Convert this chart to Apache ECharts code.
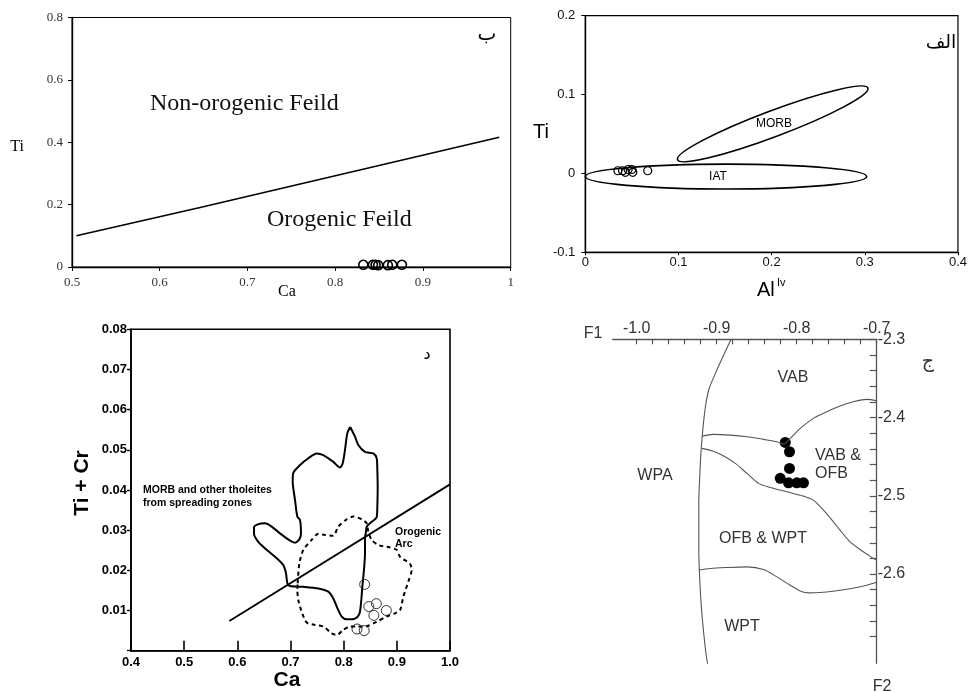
<!DOCTYPE html>
<html>
<head>
<meta charset="utf-8">
<title>Discrimination diagrams</title>
<script src="https://cdn.jsdelivr.net/npm/echarts@6/dist/echarts.min.js"></script>
<style>
  html, body { margin: 0; padding: 0; background: #fff; }
  #chart { width: 970px; height: 692px; }
</style>
</head>
<body>
<div id="chart"></div>
<script>
  // ---- panel ب : Ti vs Ca ----
  var caTiLine = [[0.505, 0.100], [0.646, 0.191], [0.987, 0.416]];
  var caTiSamples = [[0.832, 0.007], [0.843, 0.007], [0.846, 0.007], [0.849, 0.006],
                     [0.860, 0.006], [0.865, 0.007], [0.876, 0.007]];

  // ---- panel الف : Ti vs Al(iv) ----
  // field = [tip1 x, tip1 y, tip2 x, tip2 y, edge x, edge y]
  var iatField = [0.000, -0.004, 0.302, -0.004, 0.151, 0.0118];
  var morbField = [0.099, 0.0174, 0.3034, 0.1083, 0.2012, 0.0804];
  var alTiSamples = [[0.035, 0.0034], [0.040, 0.0034], [0.043, 0.0014], [0.046, 0.005],
                     [0.050, 0.005], [0.051, 0.0014], [0.067, 0.0034]];

  // ---- panel د : Ti + Cr vs Ca ----
  var morbOutline = [[0.8123, 0.0557], [0.8213, 0.0533], [0.8275, 0.0512], [0.840, 0.0495],
    [0.8557, 0.0491], [0.8621, 0.0479], [0.8633, 0.0450], [0.8640, 0.0408], [0.8633, 0.0358],
    [0.8621, 0.0333], [0.8495, 0.0317], [0.8433, 0.0309], [0.8420, 0.0296], [0.8401, 0.0280],
    [0.8401, 0.0242], [0.8382, 0.0201], [0.8351, 0.0159], [0.8326, 0.0118], [0.8294, 0.0091],
    [0.8213, 0.0080], [0.8057, 0.0078], [0.7963, 0.0085], [0.7881, 0.0106], [0.7805, 0.0130],
    [0.7711, 0.0147], [0.7523, 0.0155], [0.7241, 0.0159], [0.6991, 0.0161], [0.6941, 0.0168],
    [0.6915, 0.0193], [0.6865, 0.0213], [0.6740, 0.0230], [0.6552, 0.0251], [0.6395, 0.0271],
    [0.6313, 0.0292], [0.6313, 0.0307], [0.6395, 0.0315], [0.6520, 0.0317], [0.6646, 0.0309],
    [0.6802, 0.0292], [0.6991, 0.0274], [0.7085, 0.0269], [0.7166, 0.0277], [0.7197, 0.0292],
    [0.7179, 0.0325], [0.7128, 0.0334], [0.7085, 0.0375], [0.7041, 0.0421], [0.7053, 0.0443],
    [0.7179, 0.0462], [0.7335, 0.0479], [0.7492, 0.0491], [0.7617, 0.0487], [0.7805, 0.0470],
    [0.7931, 0.0456], [0.7981, 0.0466], [0.8025, 0.0500], [0.8068, 0.0541], [0.8123, 0.0557]];
  var arcOutline = [[0.7135, 0.0168], [0.7166, 0.0217], [0.7241, 0.0251], [0.7398, 0.0276],
    [0.7524, 0.0291], [0.7649, 0.0288], [0.7806, 0.0286], [0.7900, 0.0309], [0.8056, 0.0327],
    [0.8182, 0.0334], [0.8339, 0.0327], [0.8433, 0.0317], [0.8464, 0.0296], [0.8527, 0.0276],
    [0.8652, 0.0263], [0.8871, 0.0257], [0.8997, 0.0251], [0.9060, 0.0234], [0.9248, 0.0216],
    [0.9279, 0.0201], [0.9216, 0.0172], [0.9122, 0.0134], [0.9060, 0.0101], [0.8966, 0.0093],
    [0.8809, 0.0085], [0.8621, 0.0072], [0.8433, 0.0061], [0.8276, 0.0060], [0.8119, 0.0060],
    [0.7994, 0.0052], [0.7868, 0.0039], [0.7774, 0.0043], [0.7618, 0.0060], [0.7461, 0.0064],
    [0.7304, 0.0070], [0.7210, 0.0097], [0.7147, 0.0126], [0.7129, 0.0151], [0.7135, 0.0168]];
  var arcDivide = [[0.585, 0.0074], [1.0, 0.0414]];
  var caTiCrSamples = [[0.8395, 0.0165], [0.8473, 0.0110], [0.8615, 0.0117], [0.8568, 0.0088],
                       [0.8803, 0.0100], [0.8251, 0.0054], [0.8386, 0.0050]];

  // ---- panel ج : F1 vs F2 ----
  var wpaBoundary = [[-0.8820, -2.300], [-0.8913, -2.3201], [-0.9016, -2.3435], [-0.9100, -2.3648],
    [-0.9141, -2.3862], [-0.9170, -2.4118], [-0.9195, -2.4416], [-0.9212, -2.4757],
    [-0.9224, -2.5097], [-0.9224, -2.5396], [-0.9224, -2.5694], [-0.9215, -2.5992],
    [-0.9203, -2.6248], [-0.9182, -2.6547], [-0.9153, -2.6845], [-0.9128, -2.7059], [-0.9100, -2.7220]];
  var vabBoundary = [[-0.9185, -2.4237], [-0.9037, -2.4215], [-0.8829, -2.4224], [-0.8621, -2.4245],
    [-0.8414, -2.4279], [-0.8247, -2.4309], [-0.8165, -2.4339], [-0.8081, -2.4266],
    [-0.7956, -2.4138], [-0.7791, -2.4010], [-0.7623, -2.3926], [-0.7458, -2.3853],
    [-0.7292, -2.3798], [-0.7125, -2.3767], [-0.7000, -2.3785]];
  var ofbBoundary = [[-0.9185, -2.4394], [-0.9060, -2.4425], [-0.8913, -2.4492], [-0.8767, -2.4586],
    [-0.8621, -2.4714], [-0.8476, -2.4841], [-0.8330, -2.4893], [-0.8122, -2.4949],
    [-0.7915, -2.5004], [-0.7791, -2.5055], [-0.7666, -2.5183], [-0.7541, -2.5332],
    [-0.7458, -2.5439], [-0.7333, -2.5588], [-0.7208, -2.5685], [-0.7084, -2.5771], [-0.7000, -2.5822]];
  var wptBoundary = [[-0.9224, -2.5950], [-0.9079, -2.5928], [-0.8870, -2.5916], [-0.8621, -2.5908],
    [-0.8414, -2.5941], [-0.8247, -2.6036], [-0.8081, -2.6142], [-0.7956, -2.6215],
    [-0.7853, -2.6240], [-0.7666, -2.6232], [-0.7458, -2.6206], [-0.7249, -2.6171],
    [-0.7125, -2.6142], [-0.7000, -2.6104]];
  var f1f2Samples = [[-0.8143, -2.4318], [-0.8090, -2.4437], [-0.8090, -2.4650], [-0.8206, -2.4777],
                     [-0.8102, -2.4834], [-0.7998, -2.4834], [-0.7915, -2.4834]];

  var f1Ticks = [-1.0, -0.98, -0.96, -0.94, -0.92, -0.9, -0.88, -0.86, -0.84, -0.82, -0.8,
                 -0.78, -0.76, -0.74, -0.72, -0.7];
  var f1Labels = [-1.0, -0.9, -0.8, -0.7];
  var f2Ticks = [-2.3, -2.32, -2.34, -2.36, -2.38, -2.4, -2.42, -2.44, -2.46, -2.48, -2.5,
                 -2.52, -2.54, -2.56, -2.58, -2.6, -2.62, -2.64, -2.66, -2.68];
  var f2Labels = [-2.3, -2.4, -2.5, -2.6];

  var chart = echarts.init(document.getElementById('chart'), null, {renderer: 'canvas'});

  // draws a closed ellipse from its two tips and one point of its edge
  function renderEllipse(params, api) {
    var p1 = api.coord([api.value(0), api.value(1)]);
    var p2 = api.coord([api.value(2), api.value(3)]);
    var pe = api.coord([api.value(4), api.value(5)]);
    var cx = (p1[0] + p2[0]) / 2, cy = (p1[1] + p2[1]) / 2;
    var dx = p2[0] - p1[0], dy = p2[1] - p1[1];
    var a = Math.sqrt(dx * dx + dy * dy) / 2;
    var t = Math.atan2(dy, dx);
    var ex = pe[0] - cx, ey = pe[1] - cy;
    var u = ex * Math.cos(t) + ey * Math.sin(t);
    var v = -ex * Math.sin(t) + ey * Math.cos(t);
    var b = Math.abs(v) / Math.sqrt(Math.max(1e-6, 1 - (u * u) / (a * a)));
    var arc = ' A ' + a + ' ' + b + ' ' + (t * 180 / Math.PI) + ' 1 1 ';
    var d = 'M ' + p1[0] + ' ' + p1[1] + arc + p2[0] + ' ' + p2[1] + arc + p1[0] + ' ' + p1[1] + ' Z';
    return {
      type: 'path',
      shape: {pathData: d},
      style: {fill: 'none', stroke: '#000', lineWidth: 1.6}
    };
  }

  function txt(s, x, y, font, color, extra) {
    var el = {
      type: 'text', x: x, y: y, silent: true,
      style: {text: s, font: font, fill: color || '#000', align: 'center', verticalAlign: 'middle',
              textAlign: 'center', textVerticalAlign: 'middle'}
    };
    if (extra) {
      for (var k in extra) {
        if (k === 'align') { el.style.align = extra[k]; el.style.textAlign = extra[k]; }
        else el[k] = extra[k];
      }
    }
    return el;
  }

  var serif = 'Liberation Serif';
  var sans = 'Liberation Sans';
  var arabic = 'DejaVu Sans';

  var option = {
    animation: false,
    backgroundColor: '#fff',
    grid: [
      {left: 72, top: 17.5, width: 438.7, height: 249.5, show: true, borderColor: '#000', borderWidth: 1},
      {left: 585.3, top: 15.7, width: 379.7, height: 236.6, show: true, borderColor: '#000', borderWidth: 1.2},
      {left: 131, top: 329.3, width: 319, height: 321.4, show: true, borderColor: '#000', borderWidth: 1.6},
      {left: 612.7, top: 339.3, width: 264, height: 324, show: false}
    ],
    xAxis: [
      {
        gridIndex: 0, type: 'value', min: 0.5, max: 1, interval: 0.1,
        axisLine: {show: true, onZero: false, lineStyle: {color: '#000', width: 1.4}},
        axisTick: {show: true, length: 4, lineStyle: {color: '#000'}},
        axisLabel: {color: '#333', fontFamily: serif, fontSize: 13, margin: 9},
        splitLine: {show: false}
      },
      {
        gridIndex: 1, type: 'value', min: 0, max: 0.4, interval: 0.1,
        axisLine: {show: true, onZero: false, lineStyle: {color: '#000', width: 1.4}},
        axisTick: {show: true, length: 3, lineStyle: {color: '#000'}},
        axisLabel: {color: '#111', fontFamily: sans, fontSize: 13, margin: 4},
        splitLine: {show: false}
      },
      {
        gridIndex: 2, type: 'value', min: 0.4, max: 1.0, interval: 0.1,
        axisLine: {show: true, onZero: false, lineStyle: {color: '#000', width: 1.6}},
        axisTick: {show: true, inside: true, length: 10, lineStyle: {color: '#000', width: 1.6}},
        axisLabel: {color: '#000', fontFamily: sans, fontWeight: 'bold', fontSize: 13, margin: 5,
                    formatter: function (v) { return v.toFixed(1); }},
        splitLine: {show: false}
      },
      {
        gridIndex: 3, type: 'value', position: 'top', min: -1.03, max: -0.7,
        axisLine: {show: true, onZero: false, lineStyle: {color: '#555', width: 1.3}},
        axisTick: {show: true, inside: true, length: 5, customValues: f1Ticks, lineStyle: {color: '#555', width: 1.2}},
        axisLabel: {color: '#333', fontFamily: sans, fontSize: 16, margin: 3, customValues: f1Labels,
                    formatter: function (v) { return v.toFixed(1); }},
        splitLine: {show: false}
      }
    ],
    yAxis: [
      {
        gridIndex: 0, type: 'value', min: 0, max: 0.8, interval: 0.2,
        axisLine: {show: true, onZero: false, lineStyle: {color: '#000', width: 1.4}},
        axisTick: {show: true, length: 4, lineStyle: {color: '#000'}},
        axisLabel: {color: '#333', fontFamily: serif, fontSize: 13, margin: 9},
        splitLine: {show: false}
      },
      {
        gridIndex: 1, type: 'value', min: -0.1, max: 0.2, interval: 0.1,
        axisLine: {show: true, onZero: false, lineStyle: {color: '#000', width: 1.4}},
        axisTick: {show: true, length: 4, lineStyle: {color: '#000'}},
        axisLabel: {color: '#111', fontFamily: sans, fontSize: 13, margin: 10},
        splitLine: {show: false}
      },
      {
        gridIndex: 2, type: 'value', min: 0, max: 0.08, interval: 0.01,
        axisLine: {show: true, onZero: false, lineStyle: {color: '#000', width: 1.6}},
        axisTick: {show: true, length: 4, lineStyle: {color: '#000', width: 1.4}},
        axisLabel: {color: '#000', fontFamily: sans, fontWeight: 'bold', fontSize: 13, margin: 4,
                    formatter: function (v) { return v === 0 ? '' : v.toFixed(2); }},
        splitLine: {show: false}
      },
      {
        gridIndex: 3, type: 'value', position: 'right', min: -2.714, max: -2.3,
        axisLine: {show: true, onZero: false, lineStyle: {color: '#555', width: 1.3}},
        axisTick: {show: true, inside: true, length: 7, customValues: f2Ticks, lineStyle: {color: '#555', width: 1.2}},
        axisLabel: {color: '#333', fontFamily: sans, fontSize: 16, margin: 1, customValues: f2Labels,
                    formatter: function (v) { return v.toFixed(1); }},
        splitLine: {show: false}
      }
    ],
    series: [
      // ب
      {type: 'line', xAxisIndex: 0, yAxisIndex: 0, data: caTiLine, showSymbol: false,
       lineStyle: {color: '#000', width: 1.5}},
      {type: 'scatter', xAxisIndex: 0, yAxisIndex: 0, data: caTiSamples, symbol: 'circle', symbolSize: 9,
       itemStyle: {color: 'transparent', borderColor: '#000', borderWidth: 1.6, opacity: 1}},
      // الف
      {type: 'custom', xAxisIndex: 1, yAxisIndex: 1, data: [iatField, morbField], renderItem: renderEllipse},
      {type: 'scatter', xAxisIndex: 1, yAxisIndex: 1, data: alTiSamples, symbol: 'circle', symbolSize: 8,
       itemStyle: {color: 'transparent', borderColor: '#000', borderWidth: 1.2, opacity: 1}},
      // د
      {type: 'line', xAxisIndex: 2, yAxisIndex: 2, data: morbOutline, showSymbol: false, smooth: 0.25,
       lineStyle: {color: '#000', width: 2}},
      {type: 'line', xAxisIndex: 2, yAxisIndex: 2, data: arcOutline, showSymbol: false, smooth: 0.25,
       lineStyle: {color: '#000', width: 2, type: [4, 3.5]}},
      {type: 'line', xAxisIndex: 2, yAxisIndex: 2, data: arcDivide, showSymbol: false,
       lineStyle: {color: '#000', width: 1.8}},
      {type: 'scatter', xAxisIndex: 2, yAxisIndex: 2, data: caTiCrSamples, symbol: 'circle', symbolSize: 10,
       itemStyle: {color: 'transparent', borderColor: '#333', borderWidth: 1, opacity: 1}},
      // ج
      {type: 'line', xAxisIndex: 3, yAxisIndex: 3, data: wpaBoundary, showSymbol: false, smooth: 0.3,
       lineStyle: {color: '#555', width: 1.1}},
      {type: 'line', xAxisIndex: 3, yAxisIndex: 3, data: vabBoundary, showSymbol: false, smooth: 0.3,
       lineStyle: {color: '#555', width: 1.1}},
      {type: 'line', xAxisIndex: 3, yAxisIndex: 3, data: ofbBoundary, showSymbol: false, smooth: 0.3,
       lineStyle: {color: '#555', width: 1.1}},
      {type: 'line', xAxisIndex: 3, yAxisIndex: 3, data: wptBoundary, showSymbol: false, smooth: 0.3,
       lineStyle: {color: '#555', width: 1.1}},
      {type: 'scatter', xAxisIndex: 3, yAxisIndex: 3, data: f1f2Samples, symbol: 'circle', symbolSize: 11,
       itemStyle: {color: '#000', opacity: 1}}
    ],
    graphic: {
      elements: [
        // ب
        txt('Non-orogenic Feild', 150, 104, '24px ' + serif, '#111', {align: 'left'}),
        txt('Orogenic Feild', 267, 220, '24px ' + serif, '#111', {align: 'left'}),
        txt('ب', 487, 35, '20px "' + arabic + '"', '#000'),
        txt('Ti', 17, 147, '16px ' + serif, '#000'),
        txt('Ca', 287, 292, '16px ' + serif, '#000'),
        // الف
        txt('MORB', 774, 124, '12px ' + sans, '#000'),
        txt('IAT', 718, 177, '12px ' + sans, '#000'),
        txt('الف', 941, 43, '19px "' + arabic + '"', '#000'),
        txt('Ti', 541, 132, '20px ' + sans, '#000'),
        txt('Al', 757, 290, '20px ' + sans, '#000', {align: 'left'}),
        txt('Iv', 777, 283, '11px ' + sans, '#000', {align: 'left'}),
        // د
        txt('MORB and other tholeites', 143, 490, 'bold 10.5px ' + sans, '#000', {align: 'left'}),
        txt('from spreading zones', 143, 503, 'bold 10.5px ' + sans, '#000', {align: 'left'}),
        txt('Orogenic', 395, 532, 'bold 10.5px ' + sans, '#000', {align: 'left'}),
        txt('Arc', 395, 544, 'bold 10.5px ' + sans, '#000', {align: 'left'}),
        txt('د', 427, 355, '16px "' + arabic + '"', '#000'),
        txt('Ti + Cr', 82, 483, 'bold 21px ' + sans, '#000', {rotation: Math.PI / 2}),
        txt('Ca', 287, 680, 'bold 21px ' + sans, '#000'),
        // ج
        txt('VAB', 793, 378, '16px ' + sans, '#333'),
        txt('VAB &', 815, 456, '16px ' + sans, '#333', {align: 'left'}),
        txt('OFB', 815, 474, '16px ' + sans, '#333', {align: 'left'}),
        txt('WPA', 655, 476, '16px ' + sans, '#333'),
        txt('OFB & WPT', 763, 539, '16px ' + sans, '#333'),
        txt('WPT', 742, 627, '16px ' + sans, '#333'),
        txt('F1', 593, 334, '16px ' + sans, '#333'),
        txt('F2', 882, 687, '16px ' + sans, '#333'),
        txt('ج', 928, 362, '19px "' + arabic + '"', '#333')
      ]
    }
  };

  chart.setOption(option);
</script>
</body>
</html>
